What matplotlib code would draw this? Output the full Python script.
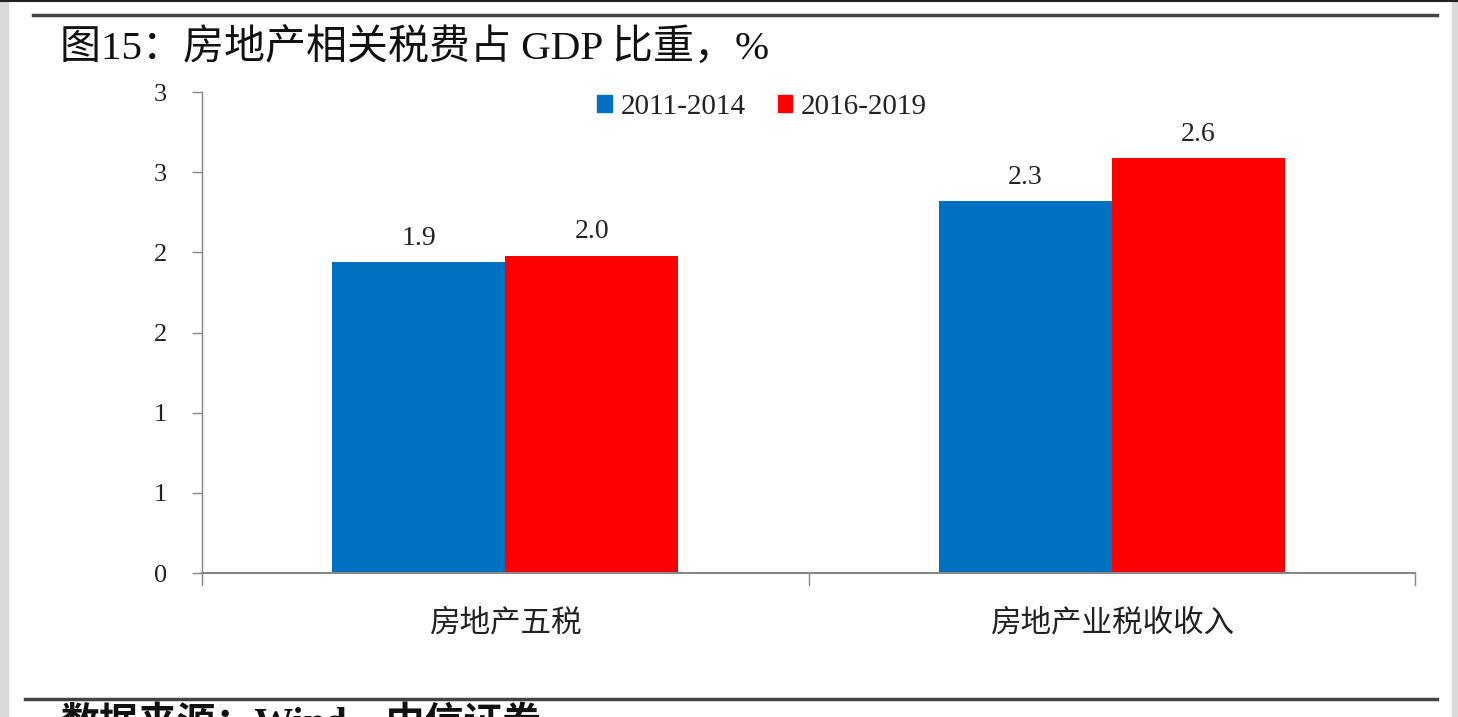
import matplotlib
matplotlib.use("Agg")
import matplotlib.pyplot as plt
from matplotlib.patches import Patch, Rectangle
from matplotlib.lines import Line2D
import numpy as np

categories = ["房地产五税", "房地产业税收收入"]
series_names = ["2011-2014", "2016-2019"]
values_2011_2014 = [1.94, 2.32]
values_2016_2019 = [1.98, 2.59]
value_labels_2011_2014 = ["1.9", "2.3"]
value_labels_2016_2019 = ["2.0", "2.6"]
ytick_values = [0, 0.5, 1.0, 1.5, 2.0, 2.5, 3.0]
ytick_labels = ["0", "1", "1", "2", "2", "3", "3"]
title = "图15：房地产相关税费占 GDP 比重，%"
source = "数据来源：Wind，中信证券"

BLUE = "#0070C0"
RED = "#FF0000"
SERIF = ["Liberation Serif", "Noto Sans CJK SC"]
CJK = ["Noto Sans CJK SC", "DejaVu Sans"]

fig = plt.figure(figsize=(14.58, 7.17), dpi=100)
W, H = 1458, 717

def fx(px):
    return px / W

def fy(py):
    return 1 - py / H

# page frame decorations
fig.patches.append(Rectangle((0, 0), fx(8), 1, transform=fig.transFigure,
                             color="#d9d9d9", zorder=0))
fig.patches.append(Rectangle((fx(1452), 0), fx(6), 1, transform=fig.transFigure,
                             color="#d9d9d9", zorder=0))
fig.lines.append(Line2D([0, 1], [fy(0.8), fy(0.8)], transform=fig.transFigure,
                        color="#222222", lw=1.5))
fig.lines.append(Line2D([fx(33), fx(1437)], [fy(15), fy(15)], transform=fig.transFigure,
                        color="#444444", lw=2.5))
fig.lines.append(Line2D([fx(25), fx(1437)], [fy(699), fy(699)], transform=fig.transFigure,
                        color="#444444", lw=2.5))

fig.text(fx(60), fy(49), title, family=SERIF, fontsize=29.5, va="center", ha="left",
         color="#111111")
fig.text(fx(60), fy(705), source, family=SERIF, fontsize=28, fontweight="bold",
         va="top", ha="left", color="#111111")

ax = fig.add_axes([fx(202), fy(573), fx(1415) - fx(202), fy(92) - fy(573)])
x = np.arange(len(categories))
bw = 0.285
b1 = ax.bar(x - bw / 2, values_2011_2014, width=bw, color=BLUE, label=series_names[0], zorder=2)
b2 = ax.bar(x + bw / 2, values_2016_2019, width=bw, color=RED, label=series_names[1], zorder=2)

for bars, labs in ((b1, value_labels_2011_2014), (b2, value_labels_2016_2019)):
    for rect, lab in zip(bars, labs):
        ax.annotate(lab, (rect.get_x() + rect.get_width() / 2, rect.get_height()),
                    xytext=(0, 8), textcoords="offset points", ha="center", va="bottom",
                    family=SERIF, fontsize=20, color="#222222")

ax.set_xlim(-0.5, len(categories) - 0.5)
ax.set_ylim(0, 3.0)
ax.set_yticks(ytick_values)
ax.set_yticklabels(ytick_labels, family=SERIF, fontsize=19, color="#222222")
ax.set_xticks(x)
ax.set_xticklabels(categories, family=CJK, fontsize=22, color="#222222")
ax.tick_params(axis="x", length=0, pad=25)
ax.tick_params(axis="y", length=7, width=1, color="#888888", pad=18)

# category boundary ticks on the x axis
for b in np.arange(-0.5, len(categories), 1.0):
    ax.plot([b, b], [0, -0.025], transform=ax.get_xaxis_transform(), color="#888888",
            lw=1, clip_on=False)

for s in ("top", "right"):
    ax.spines[s].set_visible(False)
ax.spines["left"].set_color("#888888")
ax.spines["bottom"].set_color("#888888")
ax.spines["left"].set_linewidth(1)
ax.spines["bottom"].set_linewidth(1.5)

handles = [Patch(color=BLUE), Patch(color=RED)]
leg = ax.legend(handles, series_names, loc="center", bbox_to_anchor=(0.4617, 0.969),
                ncol=2, frameon=False, prop={"family": SERIF, "size": 21},
                handlelength=0.5, handleheight=0.5, handletextpad=0.3, columnspacing=1.1)
for t in leg.get_texts():
    t.set_color("#222222")

fig.savefig("out.png", dpi=100)
